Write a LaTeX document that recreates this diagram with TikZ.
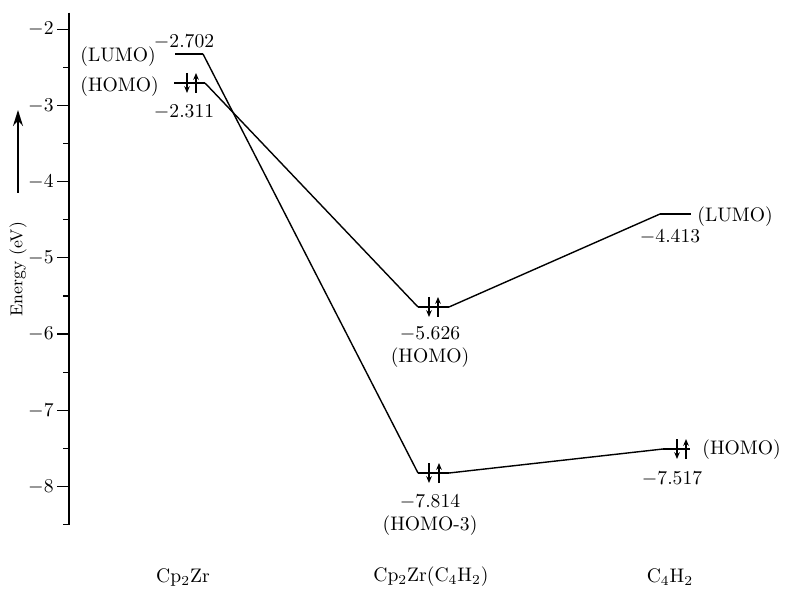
\documentclass[tikz,border=0pt]{standalone}
\usetikzlibrary{arrows.meta}
\begin{document}
\begin{tikzpicture}[x=0.5pt,y=-0.5pt,
  lbl/.style={inner sep=0pt,font=\fontsize{9.8}{11}\selectfont},
  level/.style={line width=1.1pt},
  conn/.style={line width=0.7pt},
  axis/.style={line width=0.8pt},
  tick/.style={line width=0.6pt},
  elec/.style={line width=0.6pt,-{Stealth[length=3.4pt,width=2.8pt]}}]
\useasboundingbox (0,0) rectangle (785,592);
% axis
\draw[axis] (69,12.7) coordinate (atop) -- (69,524.6) coordinate (abot);
\foreach \e/\t in {2/{$-$2},3/{$-$3},4/{$-$4},5/{$-$5},6/{$-$6},7/{$-$7},8/{$-$8}}{
  \draw[tick] (57,{29.3+(\e-2)*76.2}) -- (69,{29.3+(\e-2)*76.2});
  \node[lbl,anchor=east] (t\e) at (54,{29.3+(\e-2)*76.2}) {\t};
}
\foreach \e in {2.5,3.5,4.5,5.5,6.5,7.5,8.5}{
  \draw[tick] (63,{29.3+(\e-2)*76.2}) -- (69,{29.3+(\e-2)*76.2});
}
% energy arrow and label
\coordinate (ea) at (18,193);
\coordinate (eb) at (18,110);
\draw[line width=0.8pt,-{Stealth[length=8pt,width=5pt]}] (ea) -- (eb);
\node[lbl,rotate=90,font=\fontsize{8.6}{10}\selectfont] (elab) at (18,269) {Energy (eV)};
% level coordinates
\coordinate (L1a) at (175,54);  \coordinate (L1b) at (203,54);
\coordinate (H1a) at (174,83);  \coordinate (H1b) at (205,83);
\coordinate (H2a) at (418,307); \coordinate (H2b) at (449,307);
\coordinate (H3a) at (418,473); \coordinate (H3b) at (449,473);
\coordinate (L4a) at (660,214); \coordinate (L4b) at (691,214);
\coordinate (H4a) at (663,449); \coordinate (H4b) at (690,449);
% levels
\draw[level] (L1a) -- (L1b);
\draw[level] (H1a) -- (H1b);
\draw[level] (H2a) -- (H2b);
\draw[level] (H3a) -- (H3b);
\draw[level] (L4a) -- (L4b);
\draw[level] (H4a) -- (H4b);
% connectors
\draw[conn] (L1b) -- (H3a);
\draw[conn] (H1b) -- (H2a);
\draw[conn] (H2b) -- (L4a);
\draw[conn] (H3b) -- (H4a);
% electrons
\foreach \x/\y in {187/83,429/307,429/473,677/449}{
  \draw[elec] (\x,\y-10) -- (\x,\y+10);
}
\foreach \x/\y in {196/83,438/307,439/473,686/449}{
  \draw[elec] (\x,\y+10) -- (\x,\y-10);
}
% labels
\node[lbl,anchor=west] (n1) at (80,57) {(LUMO)};
\node[lbl] (n2) at (184,42) {$-$2.702};
\node[lbl,anchor=west] (n3) at (80,87) {(HOMO)};
\node[lbl] (n4) at (184,112) {$-$2.311};
\node[lbl] (n5) at (430,334) {$-$5.626};
\node[lbl] (n6) at (430,358) {(HOMO)};
\node[lbl] (n7) at (430,502) {$-$7.814};
\node[lbl] (n8) at (430,526) {(HOMO-3)};
\node[lbl,anchor=west] (n9) at (697,217) {(LUMO)};
\node[lbl] (n10) at (670,237) {$-$4.413};
\node[lbl,anchor=west] (n11) at (702,450) {(HOMO)};
\node[lbl] (n12) at (672,479) {$-$7.517};
% bottom labels
\node[lbl] (b1) at (183,577) {Cp\textsubscript{2}Zr};
\node[lbl] (b2) at (431,577) {Cp\textsubscript{2}Zr(C\textsubscript{4}H\textsubscript{2})};
\node[lbl] (b3) at (670,577) {C\textsubscript{4}H\textsubscript{2}};
\end{tikzpicture}
\end{document}
